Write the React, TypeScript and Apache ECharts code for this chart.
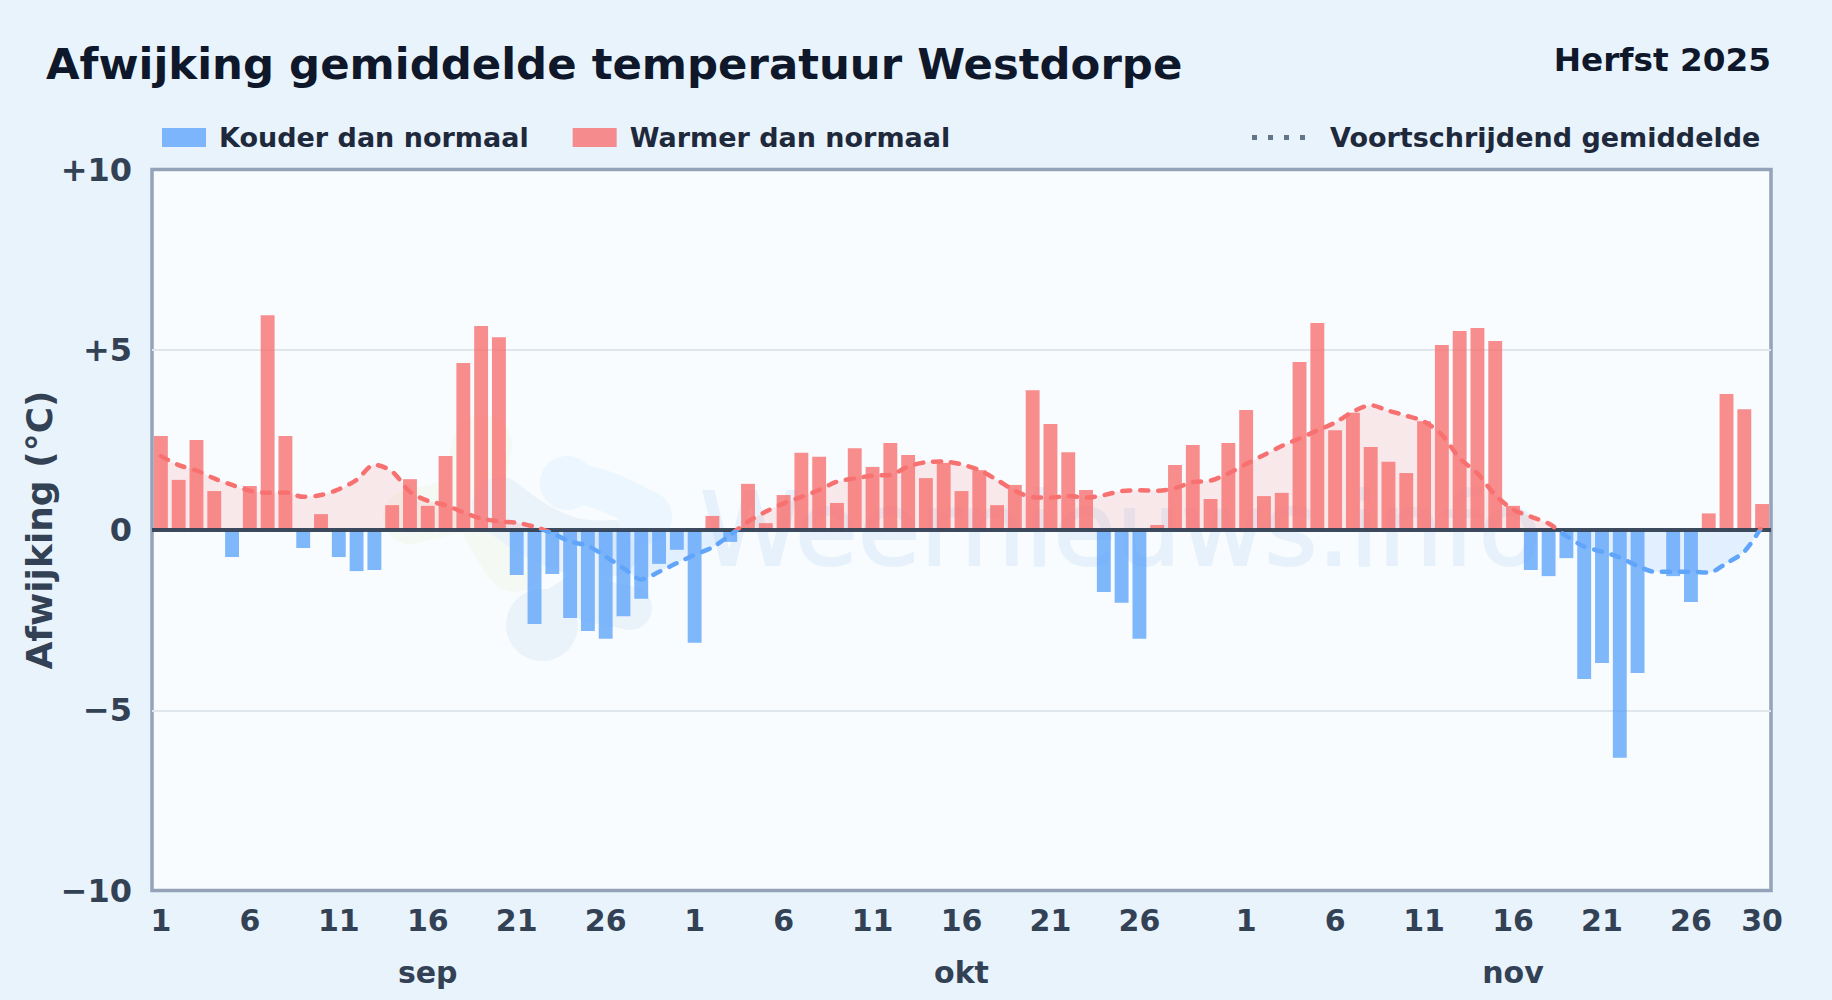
import React, { useEffect, useRef } from "react";
import * as echarts from "echarts";

const days: number[] = [
  1,2,3,4,5,6,7,8,9,10,11,12,13,14,15,16,17,18,19,20,21,22,23,24,25,26,27,28,29,30,
  1,2,3,4,5,6,7,8,9,10,11,12,13,14,15,16,17,18,19,20,21,22,23,24,25,26,27,28,29,30,31,
  1,2,3,4,5,6,7,8,9,10,11,12,13,14,15,16,17,18,19,20,21,22,23,24,25,26,27,28,29,30,
];
const categories: string[] = days.map(String);
const tickIndexes: number[] = [0,5,10,15,20,25,30,35,40,45,50,55,61,66,71,76,81,86,90];
const monthIndexes: number[] = [15,45,76];
const monthNames: string[] = ["sep","okt","nov"];
const yTicks: Record<string,string> = { "10":"+10", "5":"+5", "0":"0", "-5":"\u22125", "-10":"\u221210" };

const deviation: number[] = [
  2.61,1.39,2.5,1.08,-0.75,1.22,5.96,2.61,-0.5,0.44,-0.75,-1.14,-1.11,0.69,1.41,0.67,2.05,4.63,5.66,5.35,
  -1.25,-2.61,-1.22,-2.44,-2.8,-3.02,-2.39,-1.91,-0.94,-0.55,
  -3.13,0.39,-0.33,1.28,0.19,0.97,2.14,2.03,0.75,2.27,1.75,2.41,2.08,1.44,1.86,1.08,1.66,0.69,1.25,3.88,2.94,2.16,1.11,
  -1.72,-2.02,-3.02,0.14,1.8,2.36,0.86,2.41,
  3.33,0.94,1.03,4.66,5.74,2.77,3.25,2.3,1.89,1.58,3.02,5.13,5.52,5.6,5.24,0.67,
  -1.11,-1.28,-0.78,-4.13,-3.69,-6.32,-3.97,0,-1.28,-2.0,0.46,3.77,3.35,0.72,
];
const rolling: number[] = [
  2.05,1.8,1.65,1.43,1.25,1.09,1.03,1.04,0.92,0.97,1.13,1.39,1.81,1.62,1.06,0.81,0.69,0.49,0.32,0.24,
  0.2,0.09,-0.09,-0.32,-0.44,-0.74,-1.06,-1.37,-1.16,-0.92,
  -0.69,-0.48,-0.14,0.23,0.51,0.74,0.92,1.11,1.34,1.43,1.51,1.53,1.76,1.88,1.9,1.82,1.66,1.39,1.09,0.91,0.9,0.94,0.9,0.97,1.08,1.1,1.09,1.16,1.33,1.37,1.57,
  1.83,2.08,2.33,2.54,2.76,2.98,3.28,3.46,3.31,3.17,3.01,2.64,1.99,1.57,0.97,0.57,0.37,0.18,-0.17,-0.46,-0.6,-0.76,-1.0,-1.16,-1.16,-1.16,-1.18,-0.92,-0.6,0.1,
];
const coldValues = deviation.map((v) => (v < 0 ? v : null));
const warmValues = deviation.map((v) => (v > 0 ? v : null));

const COLD = "rgba(96,165,250,0.8)";
const WARM = "rgba(248,113,113,0.8)";
const LINE_COLD = "#60a5fa";
const LINE_WARM = "#f87171";
const FONT = "DejaVu Sans";
const GREEN_WM = "#f4f9f3";
const GREY_WM = "#eaf2fa";
const LIGHT_WM = "#ebf6fe";

const dotsIcon = "path://M0 0h5v5H0zM16 0h5v5H16zM32 0h5v5H32zM48 0h5v5H48z";

const stroke = (points: number[][], width: number, color: string) => ({
  type: "polyline", z: 1, silent: true, shape: { points, smooth: 0.5 },
  style: { stroke: color, lineWidth: width, lineCap: "round", lineJoin: "round", fill: "none" },
});
const disc = (cx: number, cy: number, r: number, fill: string) => ({
  type: "circle", z: 1, silent: true, shape: { cx, cy, r }, style: { fill },
});

export default function App() {
  const ref = useRef<HTMLDivElement>(null);
  useEffect(() => {
    const chart = echarts.init(ref.current!, undefined, { renderer: "svg" });
    chart.setOption({
      animation: false,
      backgroundColor: "#e8f3fc",
      textStyle: { fontFamily: FONT },
      title: [
        { text: "Afwijking gemiddelde temperatuur Westdorpe", left: 41, top: 37,
          textStyle: { fontFamily: FONT, fontSize: 43.4, fontWeight: "bold", color: "#0f172a" } },
        { text: "Herfst 2025", right: 56, top: 38,
          textStyle: { fontFamily: FONT, fontSize: 32.7, fontWeight: "bold", color: "#0f172a" } },
      ],
      legend: [
        { data: ["Kouder dan normaal", "Warmer dan normaal"], left: 157, top: 119, itemWidth: 44, itemHeight: 19, itemGap: 44,
          icon: "rect",
          textStyle: { fontFamily: FONT, fontSize: 27, fontWeight: "bold", color: "#1e293b", padding: [0, 0, 0, 8] } },
        { data: [{ name: "Voortschrijdend gemiddelde", icon: dotsIcon, itemStyle: { color: "#64748b", opacity: 1 } }],
          left: 1247, top: 119, itemWidth: 55, itemHeight: 5,
          textStyle: { fontFamily: FONT, fontSize: 27, fontWeight: "bold", color: "#1e293b", padding: [0, 0, 0, 19] } },
      ],
      grid: { left: 152, right: 61, top: 169.5, bottom: 109.5, show: true, backgroundColor: "#f8fcff", borderColor: "#94a3b8", borderWidth: 3.5 },
      graphic: [
        { type: "text", z: 1, silent: true, x: 700, y: 529,
          style: { text: "Weernieuws.info", fontFamily: FONT, fontSize: 102, fill: "#e6f1fb", stroke: "#e6f1fb", lineWidth: 2, verticalAlign: "middle" } },
        stroke([[482,445],[480,495],[515,562]], 60, GREEN_WM),
        stroke([[480,500],[410,517]], 54, GREEN_WM),
        stroke([[500,505],[560,542],[612,548]], 56, GREY_WM),
        disc(542, 625, 36, GREY_WM),
        stroke([[548,610],[585,585]], 34, GREY_WM),
        stroke([[590,600],[630,608]], 44, GREY_WM),
        disc(567, 483, 27, LIGHT_WM),
        disc(645, 517, 27, LIGHT_WM),
        stroke([[567,483],[602,490],[645,510]], 40, LIGHT_WM),
      ],
      xAxis: [
        { type: "category", data: categories, boundaryGap: true, position: "bottom",
          axisLine: { show: false, onZero: false }, axisTick: { show: false }, splitLine: { show: false },
          axisLabel: { margin: 15, fontFamily: FONT, fontSize: 30, fontWeight: "bold", color: "#334155",
            interval: (i: number) => tickIndexes.includes(i) } },
        { type: "category", data: categories, boundaryGap: true, position: "bottom", offset: 50,
          axisLine: { show: false, onZero: false }, axisTick: { show: false }, splitLine: { show: false },
          axisLabel: { margin: 17, fontFamily: FONT, fontSize: 30, fontWeight: "bold", color: "#334155",
            interval: (i: number) => monthIndexes.includes(i),
            formatter: (_v: string, i: number) => monthNames[monthIndexes.indexOf(i)] ?? "" } },
      ],
      yAxis: {
        type: "value", min: -10, max: 10, interval: 5,
        name: "Afwijking (\u00b0C)", nameLocation: "middle", nameGap: 113, nameRotate: 90, nameMoveOverlap: false,
        nameTextStyle: { fontFamily: FONT, fontSize: 36, fontWeight: "bold", color: "#334155", verticalAlign: "middle" },
        axisLine: { show: false }, axisTick: { show: false },
        splitLine: { showMinLine: false, showMaxLine: false, lineStyle: { color: "#dfe7ed", width: 2 } },
        axisLabel: { margin: 20, fontFamily: FONT, fontSize: 32, fontWeight: "bold", color: "#334155",
          formatter: (v: number) => yTicks[String(v)] ?? String(v) },
      },
      visualMap: { show: false, type: "piecewise", seriesIndex: [2, 3], dimension: 1,
        pieces: [{ gte: -20, lte: 0, color: LINE_COLD }, { gt: 0, lte: 20, color: LINE_WARM }] },
      series: [
        { name: "Kouder dan normaal", type: "bar", stack: "dev", data: coldValues, barWidth: "78%", z: 3,
          itemStyle: { color: COLD } },
        { name: "Warmer dan normaal", type: "bar", stack: "dev", data: warmValues, barWidth: "78%", z: 3,
          itemStyle: { color: WARM },
          markLine: { silent: true, symbol: "none", label: { show: false }, z: 5,
            lineStyle: { color: "#334155", width: 4, type: "solid", opacity: 0.95 }, data: [{ yAxis: 0 }] } },
        { name: "area", type: "line", data: rolling, smooth: 0.3, showSymbol: false, z: 2,
          lineStyle: { width: 0 }, areaStyle: { opacity: 0.14 } },
        { name: "Voortschrijdend gemiddelde", type: "line", data: rolling, smooth: 0.3, showSymbol: false, z: 6,
          lineStyle: { width: 4.5, type: [8, 10], cap: "round" } },
      ],
    });
    return () => chart.dispose();
  }, []);
  return <div ref={ref} style={{ position: "fixed", left: 0, top: 0, width: 1832, height: 1000 }} />;
}
